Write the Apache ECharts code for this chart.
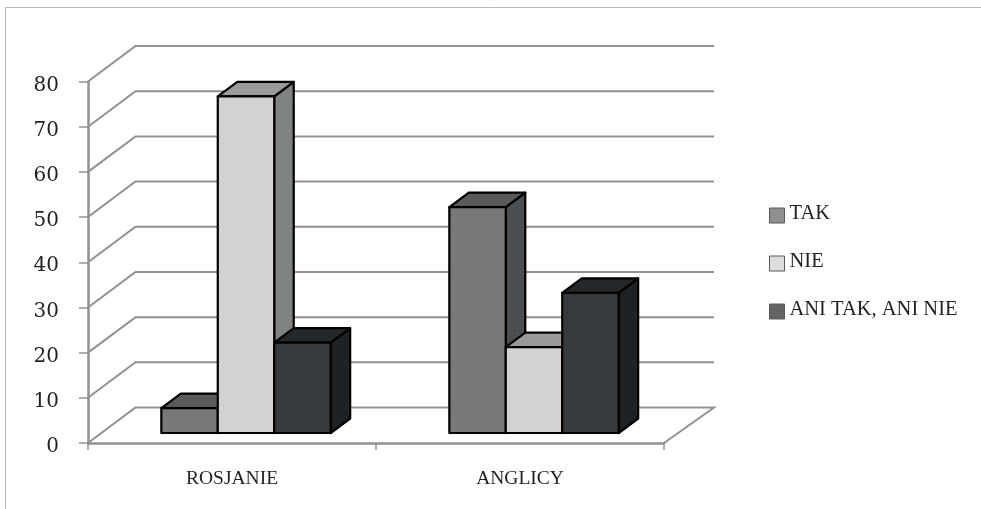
<!DOCTYPE html>
<html>
<head>
<meta charset="utf-8">
<style>html,body{margin:0;padding:0;background:#fff}#chart{width:981px;height:509px}</style>
<script src="https://cdn.jsdelivr.net/npm/echarts@6/dist/echarts.min.js"></script>
</head>
<body>
<div id="chart"></div>
<script>
const categories = ['ROSJANIE', 'ANGLICY'];
const seriesNames = ['TAK', 'NIE', 'ANI TAK, ANI NIE'];
const tak = [5.5, 50];
const nie = [74.5, 19];
const ani = [20, 31];
const yTicks = [0, 10, 20, 30, 40, 50, 60, 70, 80];

// Face shades of each box: front, top, side
const faces = [
  { front: '#76787a', top: '#58595b', side: '#4b4f51' },
  { front: '#d1d3d2', top: '#989a9b', side: '#7f8384' },
  { front: '#373a3c', top: '#25282a', side: '#1e2224' }
];
const legendFill = ['#8e9092', '#dcdddd', '#636466'];
const TEXT = '#231f20';
const WALL = '#8f9193';

// Pseudo-3D projection, in pixels
const WALL_DX_LEFT = 47.5, WALL_DX_RIGHT = 50, WALL_DY = -35.5;
const BOX_SHIFT_X = 14, BOX_SHIFT_Y = -10;
const BOX_DX = 19.5, BOX_DY = -14.5;
const BOX_WIDTH_RATIO = 0.196;

function renderWall(params, api) {
  const cs = params.coordSys;
  const y = api.coord([0, api.value(1)])[1];
  const x0 = cs.x, x1 = cs.x + cs.width;
  const v = api.value(1);
  const pts = [[x0, y], [x0 + WALL_DX_LEFT, y + WALL_DY], [x1 + WALL_DX_RIGHT, y + WALL_DY]];
  if (v === 0) pts.push([x1, y]);
  return {
    type: 'polyline',
    shape: { points: pts },
    style: { fill: 'none', stroke: WALL, lineWidth: 2 }
  };
}

function boxRenderer(slot) {
  return function (params, api) {
    const base = api.coord([api.value(0), 0]);
    const top = api.coord([api.value(0), api.value(1)]);
    const w = api.size([1, 0])[0] * BOX_WIDTH_RATIO;
    const xl = base[0] + (slot - 1.5) * w + BOX_SHIFT_X;
    const xr = xl + w;
    const yb = base[1] + BOX_SHIFT_Y;
    const yt = top[1] + BOX_SHIFT_Y;
    const c = faces[slot];
    const edge = { stroke: '#000', lineWidth: 2.2, lineJoin: 'round' };
    return {
      type: 'group',
      children: [
        { type: 'polygon',
          shape: { points: [[xr, yt], [xr + BOX_DX, yt + BOX_DY], [xr + BOX_DX, yb + BOX_DY], [xr, yb]] },
          style: Object.assign({ fill: c.side }, edge) },
        { type: 'polygon',
          shape: { points: [[xl, yt], [xl + BOX_DX, yt + BOX_DY], [xr + BOX_DX, yt + BOX_DY], [xr, yt]] },
          style: Object.assign({ fill: c.top }, edge) },
        { type: 'polygon',
          shape: { points: [[xl, yb], [xl, yt], [xr, yt], [xr, yb]] },
          style: Object.assign({ fill: c.front }, edge) }
      ]
    };
  };
}

const values = [tak, nie, ani];
const chart = echarts.init(document.getElementById('chart'), null, { renderer: 'canvas' });
chart.setOption({
  animation: false,
  backgroundColor: '#fff',
  grid: { left: 88, right: 317, top: 81.5, bottom: 66, containLabel: false },
  xAxis: {
    type: 'category',
    data: categories,
    axisLine: { lineStyle: { color: WALL, width: 2.5 } },
    axisTick: { show: true, length: 7, lineStyle: { color: WALL, width: 1.5 } },
    axisLabel: { color: TEXT, fontFamily: 'Liberation Serif', fontSize: 19.5, margin: 26 }
  },
  yAxis: {
    type: 'value',
    min: 0,
    max: 80,
    interval: 10,
    splitLine: { show: false },
    axisLine: { show: true, lineStyle: { color: WALL, width: 2.5 } },
    axisTick: { show: true, length: 9, lineStyle: { color: WALL, width: 1.5 } },
    axisLabel: { color: TEXT, fontFamily: 'DejaVu Serif', fontSize: 20, margin: 29, verticalAlign: 'top', lineHeight: 8 }
  },
  legend: {
    orient: 'vertical',
    left: 764,
    top: 198,
    itemWidth: 15,
    itemHeight: 15,
    itemGap: 27,
    icon: 'rect',
    selectedMode: false,
    formatter: name => `{t|${name}}`,
    textStyle: {
      rich: { t: { color: TEXT, fontFamily: 'Liberation Serif', fontSize: 20.5, padding: [0, 0, 4, 0] } }
    },
    data: seriesNames.map((name, i) => ({
      name,
      itemStyle: { color: legendFill[i], borderColor: '#58595b', borderWidth: 1 }
    }))
  },
  graphic: [
    // Thin frame along the top and left edges
    { type: 'polyline', silent: true, z: 0,
      shape: { points: [[5.5, 509], [5.5, 7.5], [981, 7.5]] },
      style: { fill: 'none', stroke: '#b8b9ba', lineWidth: 1 } }
  ],
  series: [
    { type: 'custom', name: 'walls', silent: true, z: 1, clip: false,
      renderItem: renderWall,
      data: yTicks.map(v => [0, v]) }
  ].concat(seriesNames.map((name, i) => ({
    type: 'custom',
    name,
    z: 2 + i,
    clip: false,
    renderItem: boxRenderer(i),
    encode: { x: 0, y: 1 },
    itemStyle: { color: legendFill[i] },
    data: categories.map((c, k) => [k, values[i][k]])
  })))
});
</script>
</body>
</html>
